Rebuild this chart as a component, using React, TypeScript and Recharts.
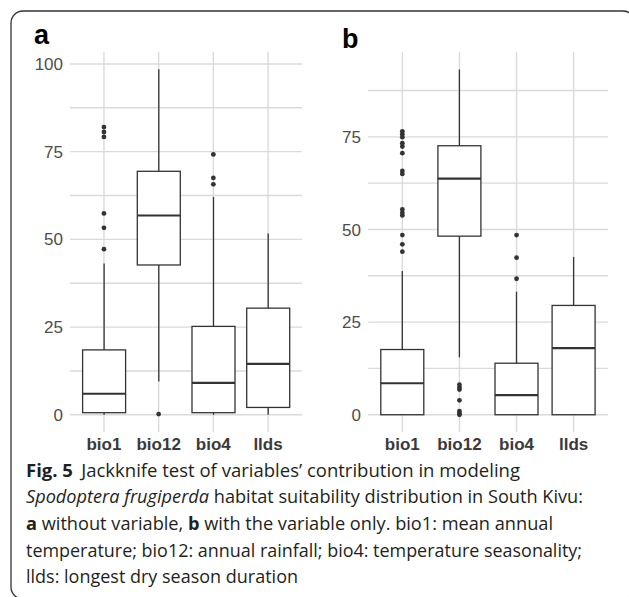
import React from 'react';
import { ComposedChart, Bar, Scatter, XAxis, YAxis, CartesianGrid } from 'recharts';

const categories = ['bio1', 'bio12', 'bio4', 'llds'];

// Panel a: without variable
const aLower = [0, 9.5, 0, 0];
const aQ1 = [0.6, 42.7, 0.6, 2.1];
const aMedian = [6.0, 56.8, 9.1, 14.5];
const aQ3 = [18.5, 69.4, 25.2, 30.4];
const aUpper = [43.1, 98.5, 62.1, 51.7];
const aOutliers = [[47.2, 53.3, 57.4, 79.2, 80.6, 82.0], [0.2], [65.7, 67.5, 74.2], []];
const aTicks = [0, 25, 50, 75, 100];
const aGrid = [0, 12.5, 25, 37.5, 50, 62.5, 75, 87.5, 100];
const aDomain = [-4.9, 103.4];

// Panel b: with the variable only
const bLower = [0, 15.5, 0, 0];
const bQ1 = [0, 48.2, 0, 0];
const bMedian = [8.5, 63.7, 5.3, 18.0];
const bQ3 = [17.6, 72.6, 13.9, 29.5];
const bUpper = [38.8, 93.2, 33.2, 42.6];
const bOutliers = [
  [44.0, 46.0, 48.5, 53.8, 54.5, 55.4, 65.0, 65.8, 70.6, 72.4, 73.3, 74.9, 75.7, 76.5],
  [0, 0.4, 1.0, 3.9, 6.8, 7.4, 8.1],
  [36.7, 42.4, 48.5],
  [],
];
const bTicks = [0, 25, 50, 75];
const bGrid = [0, 12.5, 25, 37.5, 50, 62.5, 75, 87.5];
const bDomain = [-4.66, 97.9];

const INK = '#333333';
const GRID = '#dadada';

function buildRows(lower: number[], q1: number[], med: number[], q3: number[], upper: number[]) {
  return categories.map((name, i) => ({ name, lower: lower[i], q1: q1[i], median: med[i], q3: q3[i], upper: upper[i] }));
}
function buildOutliers(out: number[][]) {
  const rows: { name: string; value: number }[] = [];
  out.forEach((vals, i) => vals.forEach((v) => rows.push({ name: categories[i], value: v })));
  return rows;
}

const BoxShape = (props: any) => {
  const { x, y, width, height, payload } = props;
  if (!payload) return null;
  const top = Math.min(y, y + height);
  const h = Math.abs(height);
  const span = payload.upper - payload.lower;
  const ppu = span > 0 ? h / span : 0;
  const py = (v: number) => top + (payload.upper - v) * ppu;
  const cx = x + width / 2;
  return (
    <g>
      <line x1={cx} x2={cx} y1={py(payload.upper)} y2={py(payload.q3)} stroke={INK} strokeWidth={1.3} />
      <line x1={cx} x2={cx} y1={py(payload.q1)} y2={py(payload.lower)} stroke={INK} strokeWidth={1.3} />
      <rect x={x} y={py(payload.q3)} width={width} height={py(payload.q1) - py(payload.q3)} fill="#ffffff" stroke={INK} strokeWidth={1.3} />
      <line x1={x} x2={x + width} y1={py(payload.median)} y2={py(payload.median)} stroke={INK} strokeWidth={2.2} />
    </g>
  );
};

const Dot = (props: any) => {
  const { cx, cy } = props;
  if (cx == null || cy == null) return null;
  return <circle cx={cx} cy={cy} r={2.4} fill={INK} />;
};

type PanelProps = {
  rows: any[];
  outliers: any[];
  ticks: number[];
  grid: number[];
  domain: number[];
  width: number;
  yAxisWidth: number;
  pad: number;
};

const Panel = ({ rows, outliers, ticks, grid, domain, width, yAxisWidth, pad }: PanelProps) => (
  <ComposedChart width={width} height={470} data={rows} margin={{ top: 52, right: 8, bottom: 8, left: 0 }}>
    <CartesianGrid stroke={GRID} strokeWidth={1.4} yAxisId="grid" syncWithTicks />
    <XAxis
      dataKey="name"
      type="category"
      allowDuplicatedCategory={false}
      padding={{ left: pad, right: pad }}
      axisLine={false}
      tickLine={false}
      tickSize={0}
      tickMargin={6}
      height={30}
      interval={0}
      tick={{ fontSize: 17, fontWeight: 'bold', fill: '#3a3a3a', fontFamily: 'Liberation Sans, Arial, sans-serif' }}
    />
    <YAxis
      type="number"
      domain={domain}
      ticks={ticks}
      allowDataOverflow
      axisLine={false}
      tickLine={false}
      tickSize={0}
      tickMargin={7}
      width={yAxisWidth}
      tick={{ fontSize: 17, fill: '#4d4d4d', fontFamily: 'Liberation Sans, Arial, sans-serif' }}
    />
    <YAxis yAxisId="grid" type="number" domain={domain} ticks={grid} allowDataOverflow hide />
    <Bar
      dataKey={(d: any) => [d.lower, d.upper]}
      barSize={43}
      shape={(p: any) => <BoxShape {...p} />}
      isAnimationActive={false}
    />
    <Scatter data={outliers} dataKey="value" shape={(p: any) => <Dot {...p} />} isAnimationActive={false} />
  </ComposedChart>
);

const capFont = "'Open Sans', 'Noto Sans', sans-serif";

export default function App() {
  const rowsA = buildRows(aLower, aQ1, aMedian, aQ3, aUpper);
  const rowsB = buildRows(bLower, bQ1, bMedian, bQ3, bUpper);
  const outA = buildOutliers(aOutliers);
  const outB = buildOutliers(bOutliers);
  return (
    <div style={{ position: 'absolute', left: 0, top: 0, width: 629, height: 597, overflow: 'hidden', background: '#fff' }}>
      <div style={{ position: 'absolute', left: 0, top: 0 }}>
        <Panel rows={rowsA} outliers={outA} ticks={aTicks} grid={aGrid} domain={aDomain} width={310} yAxisWidth={70} pad={6.6} />
      </div>
      <div style={{ position: 'absolute', left: 300, top: 0 }}>
        <Panel rows={rowsB} outliers={outB} ticks={bTicks} grid={bGrid} domain={bDomain} width={316} yAxisWidth={68} pad={5.8} />
      </div>
      <svg width={629} height={597} style={{ position: 'absolute', left: 0, top: 0, pointerEvents: 'none' }}>
        <rect x={11} y={11} width={624} height={588} rx={12} ry={12} fill="none" stroke="#333" strokeWidth={1.3} />
        <text x={34} y={43.5} fontSize={27} fontWeight="bold" fill="#000" fontFamily="Liberation Sans, Arial, sans-serif">a</text>
        <text x={342} y={47.5} fontSize={27} fontWeight="bold" fill="#000" fontFamily="Liberation Sans, Arial, sans-serif">b</text>
        <g fontFamily={capFont} fontSize={18} fill="#231f20">
          <text x={26} y={476.5} textLength={494} lengthAdjust="spacingAndGlyphs">
            <tspan fontWeight="bold">Fig. 5</tspan>
            <tspan dx={8}>Jackknife test of variables’ contribution in modeling</tspan>
          </text>
          <text x={26} y={503} textLength={557} lengthAdjust="spacingAndGlyphs">
            <tspan fontStyle="italic">Spodoptera frugiperda</tspan>
            <tspan> habitat suitability distribution in South Kivu:</tspan>
          </text>
          <text x={26} y={530} textLength={527} lengthAdjust="spacingAndGlyphs">
            <tspan fontWeight="bold">a</tspan>
            <tspan> without variable, </tspan>
            <tspan fontWeight="bold">b</tspan>
            <tspan> with the variable only. bio1: mean annual</tspan>
          </text>
          <text x={26} y={556.7} textLength={556} lengthAdjust="spacingAndGlyphs">
            temperature; bio12: annual rainfall; bio4: temperature seasonality;
          </text>
          <text x={26} y={583.3} textLength={272} lengthAdjust="spacingAndGlyphs">
            llds: longest dry season duration
          </text>
        </g>
      </svg>
    </div>
  );
}
